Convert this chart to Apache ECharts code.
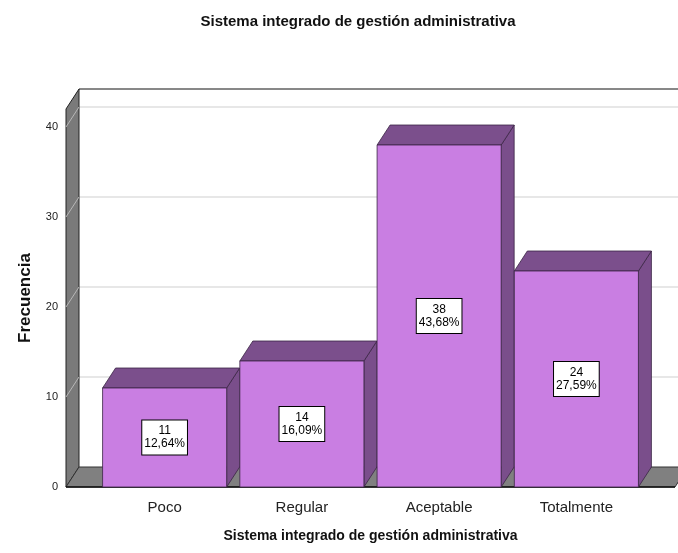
<!DOCTYPE html>
<html>
<head>
<meta charset="utf-8">
<title>Sistema integrado de gestión administrativa</title>
<script src="https://cdn.jsdelivr.net/npm/echarts@6/dist/echarts.min.js"></script>
<style>
  html, body { margin: 0; padding: 0; background: #fff; }
  #chart { width: 678px; height: 553px; }
</style>
</head>
<body>
<div id="chart"></div>
<script>
var categories = ['Poco', 'Regular', 'Aceptable', 'Totalmente'];
var frequencies = [11, 14, 38, 24];
var percents = ['12,64%', '16,09%', '43,68%', '27,59%'];
var yTicks = [0, 10, 20, 30, 40];
var yMax = 42;

var FONT = 'Arial, "Liberation Sans", sans-serif';
var DX = 13, DY = 20;   // depth of the 3d effect
var WALL = 30;          // walls stick out past the category band

function renderFrame(params, api) {
    var cs = params.coordSys;
    var x0 = cs.x - WALL, x1 = cs.x + cs.width + WALL;
    var yb = api.coord([0, 0])[1];
    var yt = api.coord([0, yMax])[1];
    var kids = [];
    yTicks.forEach(function (v) {
        if (v === 0) return;
        var y = api.coord([0, v])[1];
        kids.push({ type: 'line', shape: { x1: x0 + DX, y1: y - DY, x2: x1 + DX, y2: y - DY },
            style: { stroke: '#cfcfcf', lineWidth: 1 } });
    });
    kids.push({ type: 'polygon', shape: { points: [[x0, yb], [x0, yt], [x0 + DX, yt - DY], [x0 + DX, yb - DY]] },
        style: { fill: '#7a7a7a', stroke: '#222', lineWidth: 1 } });
    yTicks.forEach(function (v) {
        if (v === 0) return;
        var y = api.coord([0, v])[1];
        kids.push({ type: 'line', shape: { x1: x0, y1: y, x2: x0 + DX, y2: y - DY },
            style: { stroke: '#b8b8b8', lineWidth: 1 } });
    });
    kids.push({ type: 'polygon', shape: { points: [[x0, yb], [x0 + DX, yb - DY], [x1 + DX, yb - DY], [x1, yb]] },
        style: { fill: '#808080', stroke: '#333', lineWidth: 1 } });
    kids.push({ type: 'line', shape: { x1: x0, y1: yb, x2: x1, y2: yb },
        style: { stroke: '#111', lineWidth: 1.5 } });
    kids.push({ type: 'line', shape: { x1: x0 + DX, y1: yt - DY, x2: x1 + DX, y2: yt - DY },
        style: { stroke: '#111', lineWidth: 1 } });
    return { type: 'group', children: kids };
}

function renderBar(params, api) {
    var i = api.value(0), v = api.value(1);
    var top = api.coord([i, v]);
    var base = api.coord([i, 0]);
    var w = api.size([1, 0])[0] * 0.904;
    var xl = top[0] - w / 2, xr = top[0] + w / 2;
    var yt = top[1], yb = base[1];
    var edge = { stroke: '#3a2444', lineWidth: 0.8 };
    return {
        type: 'group',
        children: [
            { type: 'polygon', shape: { points: [[xr, yt], [xr + DX, yt - DY], [xr + DX, yb - DY], [xr, yb]] },
              style: Object.assign({ fill: '#7a4e8b' }, edge) },
            { type: 'polygon', shape: { points: [[xl, yt], [xl + DX, yt - DY], [xr + DX, yt - DY], [xr, yt]] },
              style: Object.assign({ fill: '#7b4f8c' }, edge) },
            { type: 'rect', shape: { x: xl, y: yt, width: w, height: yb - yt },
              style: Object.assign({ fill: '#c97ee2' }, edge) },
            { type: 'text', x: top[0], y: (yt + yb) / 2,
              style: { text: frequencies[params.dataIndex] + '\n' + percents[params.dataIndex],
                  align: 'center', verticalAlign: 'middle', font: '12px ' + FONT, fill: '#000',
                  lineHeight: 13, backgroundColor: '#fff', borderColor: '#000', borderWidth: 1,
                  padding: [5, 2, 3, 2] } }
        ]
    };
}

var chart = echarts.init(document.getElementById('chart'));
chart.setOption({
    animation: false,
    backgroundColor: '#fff',
    title: {
        text: 'Sistema integrado de gestión administrativa',
        left: 353, top: 9, textAlign: 'center',
        textStyle: { fontFamily: FONT, fontSize: 15, fontWeight: 'bold', color: '#111' }
    },
    grid: { left: 96, right: 33, top: 109, bottom: 66 },
    xAxis: {
        type: 'category',
        data: categories,
        name: 'Sistema integrado de gestión administrativa',
        nameLocation: 'middle',
        nameGap: 42,
        nameTextStyle: { fontFamily: FONT, fontSize: 14, fontWeight: 'bold', color: '#111' },
        axisLine: { show: false },
        axisTick: { show: false },
        axisLabel: { fontFamily: FONT, fontSize: 15, color: '#222', margin: 13 }
    },
    yAxis: {
        type: 'value',
        min: 0, max: yMax, interval: 10,
        offset: WALL,
        name: 'Frecuencia',
        nameLocation: 'middle',
        nameRotate: 90,
        nameGap: 32,
        nameTextStyle: { fontFamily: FONT, fontSize: 17, fontWeight: 'bold', color: '#111' },
        axisLine: { show: false },
        axisTick: { show: false },
        splitLine: { show: false },
        axisLabel: {
            fontFamily: FONT, fontSize: 11, color: '#222', margin: 8, showMaxLabel: false,
            formatter: function (v) { return yTicks.indexOf(v) >= 0 ? String(v) : ''; }
        }
    },
    series: [
        { type: 'custom', z: 1, renderItem: renderFrame, data: [[0, 0]], silent: true },
        { type: 'custom', z: 2, renderItem: renderBar,
          data: frequencies.map(function (f, i) { return [i, f]; }) }
    ]
});
</script>
</body>
</html>
